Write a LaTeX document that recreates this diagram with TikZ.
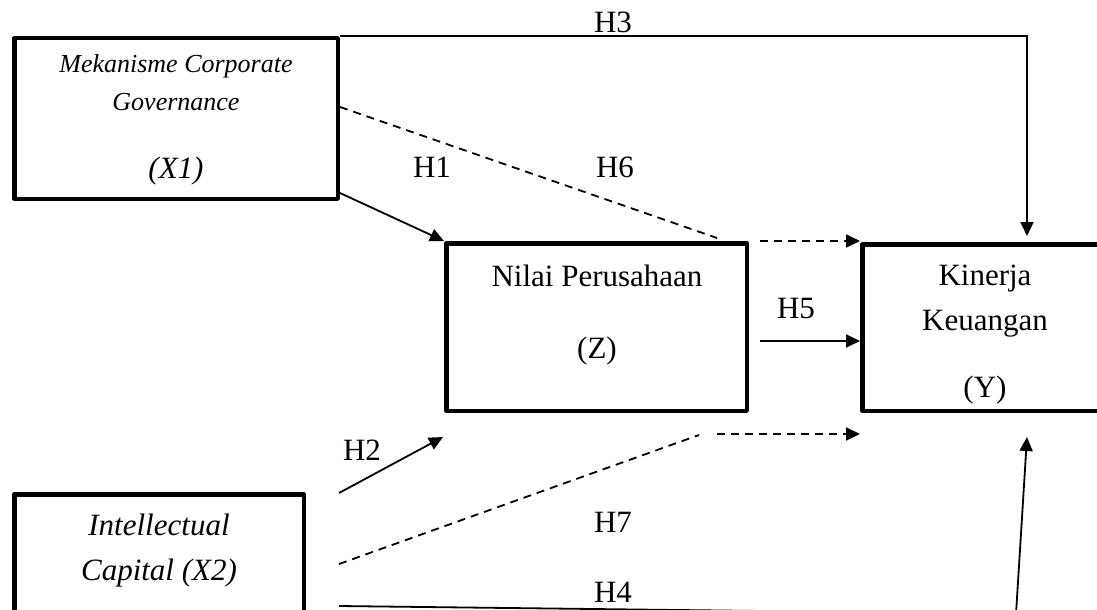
\documentclass[tikz,border=0pt]{standalone}
\usepackage{fontspec}
\setmainfont{Liberation Serif}
\usetikzlibrary{arrows.meta,calc}
\begin{document}
\begin{tikzpicture}[x=1pt,y=-1pt,
  box/.style={draw,line width=4.5pt,rectangle,inner sep=0pt,line join=round},
  lbl/.style={font=\fontsize{31}{36}\selectfont,anchor=base,inner sep=0pt},
  txt/.style={font=\fontsize{31}{36}\selectfont,anchor=base,inner sep=0pt},
  itx/.style={font=\fontsize{26}{30}\selectfont\itshape,anchor=base,inner sep=0pt},
  itb/.style={font=\fontsize{31}{36}\selectfont\itshape,anchor=base,inner sep=0pt},
  conn/.style={line width=1.8pt,-{Triangle[length=14pt,width=13pt]}},
  dsh/.style={line width=1.8pt,dash pattern=on 8pt off 6pt},
  dsharrow/.style={dsh,-{Triangle[length=14pt,width=13pt]}}
]
\useasboundingbox (0,0) rectangle (1097,610);
\clip (0,0) rectangle (1097,610);

% boxes
\node[box,minimum width=323.5pt,minimum height=160.5pt] (x1) at (176,118.5) {};
\node[box,minimum width=300.5pt,minimum height=167.5pt] (z) at (596.5,327) {};
\node[box,minimum width=245.5pt,minimum height=166.5pt] (y) at (985,327.5) {};
\node[box,minimum width=289.5pt,minimum height=153.5pt] (x2) at (159,571) {};

% texts
\node[itx] (t1a) at (176,73) {Mekanisme Corporate};
\node[itx] (t1b) at (176,110) {Governance};
\node[itb] (t1c) at (176,178) {(X1)};
\node[txt] (tza) at (597,286) {Nilai Perusahaan};
\node[txt] (tzb) at (597,358) {(Z)};
\node[txt] (tya) at (985,285) {Kinerja};
\node[txt] (tyb) at (985,330) {Keuangan};
\node[txt] (tyc) at (985,397) {(Y)};
\node[itb] (t2a) at (159,535) {Intellectual};
\node[itb] (t2b) at (159,580) {Capital (X2)};

% labels
\node[lbl] (lh3) at (613,33) {H3};
\node[lbl] (lh1) at (432,177) {H1};
\node[lbl] (lh6) at (615,177) {H6};
\node[lbl] (lh5) at (796,318) {H5};
\node[lbl] (lh2) at (362,460) {H2};
\node[lbl] (lh7) at (613,532) {H7};
\node[lbl] (lh4) at (613,602) {H4};

% free ends
\coordinate (h3e) at (1027,236);
\coordinate (h1s) at (340,193);
\coordinate (h6s) at (340,107);
\coordinate (h6e) at (717,238);
\coordinate (h6f) at (760,241);
\coordinate (h5s) at (760,341);
\coordinate (h7s) at (339,564);
\coordinate (h7e) at (699,435);
\coordinate (h7f) at (717,434);
\coordinate (h2s) at (339,493);
\coordinate (h2e) at (443,437);
\coordinate (h4s) at (339,606);
\coordinate (h4c) at (1016,614);
\coordinate (h4e) at (1027,437);

% connectors
\draw[conn] (x1.north east) -| (h3e);
\draw[conn] (h1s) -- (z.north west);
\draw[dsh] (h6s) -- (h6e);
\draw[dsharrow] (h6f) -- (h6f -| y.west);
\draw[conn] (h5s) -- (h5s -| y.west);
\draw[dsh] (h7s) -- (h7e);
\draw[dsharrow] (h7f) -- (h7f -| y.west);
\draw[conn] (h2s) -- (h2e);
\draw[conn] (h4s) -- (h4c) -- (h4e);
\end{tikzpicture}
\end{document}
